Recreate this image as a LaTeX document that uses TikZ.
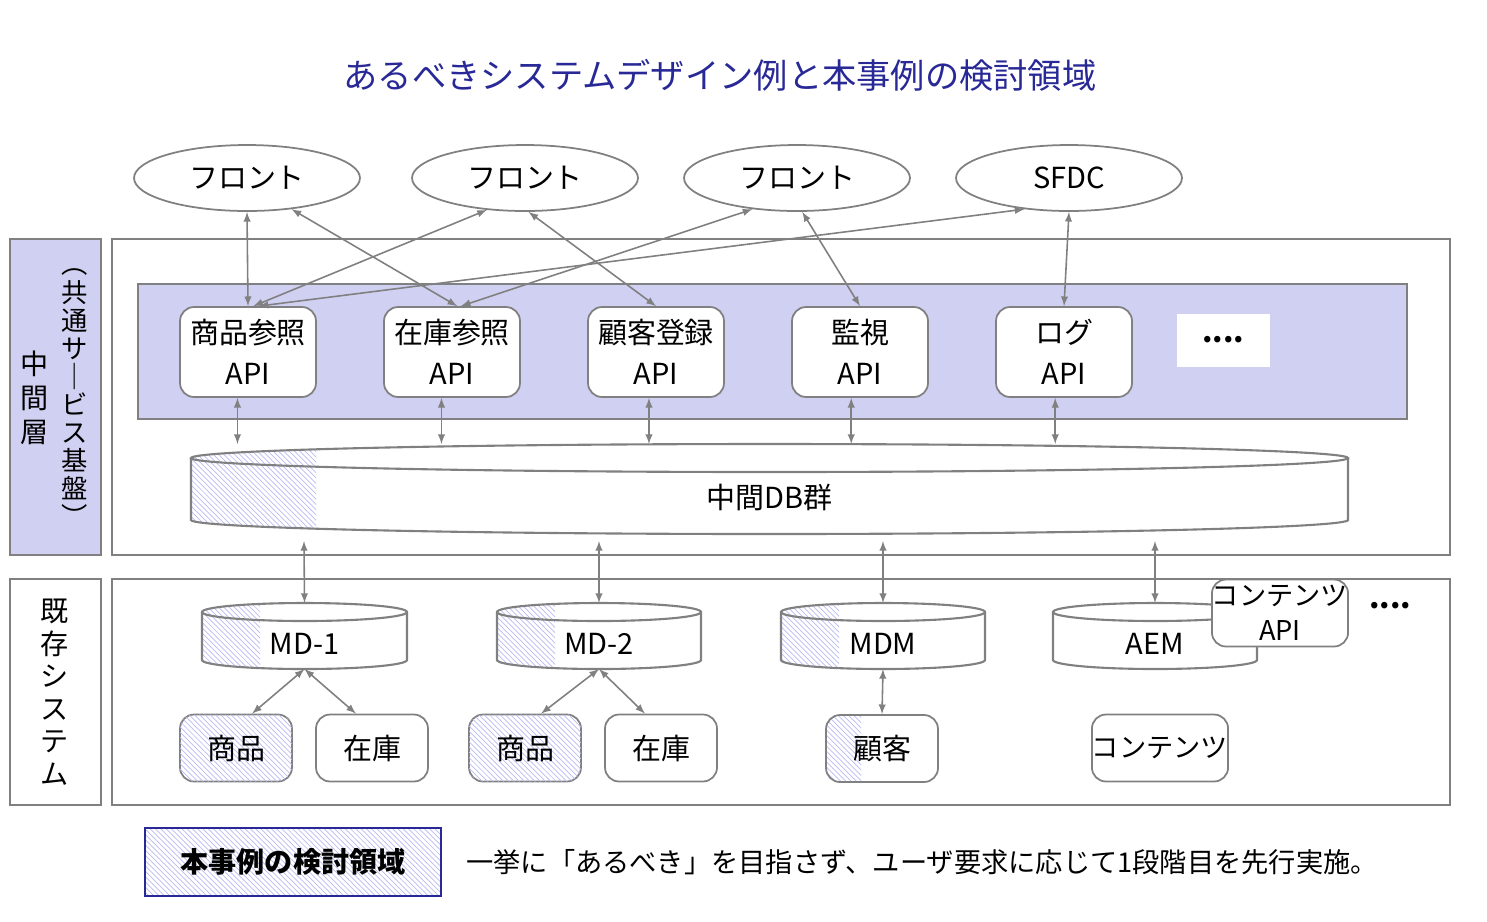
\documentclass[tikz,border=0pt]{standalone}
\usepackage{fontspec}
\setmainfont{Noto Sans CJK JP}
\usetikzlibrary{arrows,positioning,patterns,shapes.geometric}
\definecolor{lav}{RGB}{208,208,242}
\definecolor{navy}{RGB}{40,40,150}
\definecolor{edge}{RGB}{128,128,128}

% cylinder: x1, x2, ytop, ybottom, ry(cm), hatch width, name, label
\newcommand\dbstack[8]{%
  \pgfmathsetmacro\rxc{(#2-#1)/2*0.02}%
  \pgfmathsetmacro\cxc{(#1+#2)/2}%
  \path[fill=white] (#1,#3) -- (#1,#4) arc (180:360:\rxc cm and #5cm) -- (#2,#3) arc (0:180:\rxc cm and #5cm);
  \begin{scope}
    \clip (#1,#3) -- (#1,#4) arc (180:360:\rxc cm and #5cm) -- (#2,#3) arc (0:180:\rxc cm and #5cm);
    \fill[pattern=north west lines, pattern color=lav!90!blue] (#1,#3-30) rectangle (#1+#6,#4+30);
  \end{scope}
  \draw[edge, line width=1.2pt] (#1,#3) -- (#1,#4) arc (180:360:\rxc cm and #5cm) -- (#2,#3);
  \draw[edge, line width=1.2pt] (\cxc,#3) ellipse (\rxc cm and #5cm);
  \coordinate (#7-top) at ([yshift=#5cm]\cxc,#3);
  \coordinate (#7-bot) at ([yshift=-#5cm]\cxc,#4);
  \node (#7) at (\cxc,{(#3+#4)/2+8}) {#8};
}

\begin{document}
\begin{tikzpicture}[
    x=0.02cm, y=-0.02cm,
    >=latex,
    font=\fontsize{16.5}{20}\selectfont,
    front/.style={ellipse, draw=edge, line width=1pt, minimum width=4.52cm, minimum height=1.32cm, inner sep=0pt},
    api/.style={rectangle, rounded corners=8pt, draw=edge, line width=1pt, fill=white,
                minimum width=2.72cm, minimum height=1.8cm, align=center, inner sep=0pt,
                font=\fontsize{16.5}{23}\selectfont},
    sys/.style={rectangle, rounded corners=8pt, draw=edge, line width=1pt, fill=white,
                minimum width=2.24cm, minimum height=1.34cm, inner sep=0pt},
    hatched/.style={postaction={pattern=north west lines, pattern color=lav!90!blue}},
    frame/.style={draw=edge, line width=1pt},
    link/.style={<->, draw=edge, line width=0.9pt}
  ]
  \useasboundingbox (0,0) rectangle (1487,921);

  % title
  \node[text=navy, font=\fontsize{19.5}{24}\selectfont] (title) at (720,75) {あるべきシステムデザイン例と本事例の検討領域};

  % front ends
  \node[front] (f1) at (247,178) {フロント};
  \node[front] (f2) at (525,178) {フロント};
  \node[front] (f3) at (797,178) {フロント};
  \node[front] (f4) at (1069,178) {SFDC};

  % middle layer
  \draw[frame, fill=lav] (10,239) rectangle (101,555);
  \draw[frame] (112,239) rectangle (1450,555);
  \node[align=center, inner sep=0pt, font=\fontsize{16}{19.5}\selectfont] (midlabel) at (35,398) {中\\間\\層};
  \node[align=center, inner sep=0pt, font=\fontsize{15}{16}\selectfont] (sublabel) at (75,398)
    {︵\\共\\通\\サ\\｜\\ビ\\ス\\基\\盤\\︶};
  \draw[frame, fill=lav] (138,284) rectangle (1407,419);

  \node[api] (a1) at (248,352) {商品参照\\API};
  \node[api] (a2) at (452,352) {在庫参照\\API};
  \node[api] (a3) at (656,352) {顧客登録\\API};
  \node[api] (a4) at (860,352) {監視\\API};
  \node[api] (a5) at (1064,352) {ログ\\API};
  \node[fill=white, minimum width=1.86cm, minimum height=1.06cm, font=\bfseries\fontsize{17}{20}\selectfont] (more1) at (1223,340) {....};

  \dbstack{191}{1348}{458}{520}{0.28}{125}{mdb}{中間DB群}

  % legacy layer
  \draw[frame] (10,579) rectangle (101,805);
  \draw[frame] (112,579) rectangle (1450,805);
  \node[align=center, inner sep=0pt, font=\fontsize{16}{18.5}\selectfont] (legacylabel) at (55,692) {既\\存\\シ\\ス\\テ\\ム};

  \dbstack{202}{407}{612}{660}{0.18}{58}{md1}{MD-1}
  \dbstack{497}{701}{612}{660}{0.18}{58}{md2}{MD-2}
  \dbstack{781}{985}{612}{660}{0.18}{58}{mdm}{MDM}
  \dbstack{1053}{1257}{612}{660}{0.18}{0}{aem}{AEM}
  \node[api, minimum width=2.7cm, minimum height=1.34cm, font=\fontsize{15.5}{20}\selectfont] (capi) at (1280,613) {コンテンツ\\API};
  \node[font=\bfseries\fontsize{17}{20}\selectfont] (more2) at (1390,606) {....};

  \node[sys, hatched] (s1) at (236,748) {商品};
  \node[sys] (s2) at (372,748) {在庫};
  \node[sys, hatched] (s3) at (525,748) {商品};
  \node[sys] (s4) at (661,748) {在庫};
  \node[sys, font=\fontsize{15.5}{20}\selectfont] (s6) at (1160,748) {コンテンツ};
  \begin{scope}
    \clip (826,715) rectangle (861,782);
    \fill[pattern=north west lines, pattern color=lav!90!blue, rounded corners=8pt] (826,715) rectangle (938,782);
  \end{scope}
  \draw[edge, line width=1pt, rounded corners=8pt] (826,715) rectangle (938,782);
  \node[minimum width=2.24cm, minimum height=1.34cm] (s5) at (882,748) {顧客};

  % front <-> api
  \draw[link] (f1.south) -- (a1.north);
  \draw[link] (f1.-35) -- ([xshift=3pt]a2.north);
  \draw[link] (f2.-140) -- ([xshift=3pt]a1.north);
  \draw[link] ([xshift=2pt]f2.south) -- (a3.north);
  \draw[link] (f3.-145) -- ([xshift=5pt]a2.north);
  \draw[link] ([xshift=3pt]f3.south) -- (a4.north);
  \draw[link] (f4.-145) -- ([xshift=6pt]a1.north);
  \draw[link] (f4.south) -- (a5.north);

  % api <-> db
  \draw[link] ([xshift=-6pt]a1.south) -- ([xshift=-6pt]a1.south |- mdb-top);
  \draw[link] ([xshift=-6pt]a2.south) -- ([xshift=-6pt]a2.south |- mdb-top);
  \draw[link] ([xshift=-4pt]a3.south) -- ([xshift=-4pt]a3.south |- mdb-top);
  \draw[link] ([xshift=-5pt]a4.south) -- ([xshift=-5pt]a4.south |- mdb-top);
  \draw[link] ([xshift=-5pt]a5.south) -- ([xshift=-5pt]a5.south |- mdb-top);

  % middle <-> legacy
  \coordinate (m1) at (304,541);
  \coordinate (m2) at (599,541);
  \coordinate (m3) at (883,541);
  \coordinate (m4) at (1155,541);
  \draw[link] (m1) -- (md1-top);
  \draw[link] (m2) -- (md2-top);
  \draw[link] (m3) -- (mdm-top);
  \draw[link] (m4) -- (aem-top);

  % db <-> systems
  \draw[link] (md1-bot) -- (s1.65);
  \draw[link] (md1-bot) -- (s2.115);
  \draw[link] (md2-bot) -- (s3.65);
  \draw[link] (md2-bot) -- (s4.115);
  \draw[link] (mdm-bot) -- (s5.north);

  % legend
  \node[fill=white, hatched, minimum width=5.9cm, minimum height=1.34cm,
        font=\bfseries\fontsize{16}{19}\selectfont] (legend) at (293,862) {本事例の検討領域};
  \draw[navy, line width=1pt] (legend.north west) rectangle (legend.south east);
  \node[anchor=west, inner sep=0pt, font=\fontsize{15.5}{19}\selectfont] (note) at (466,862)
    {一挙に「あるべき」を目指さず、ユーザ要求に応じて1段階目を先行実施。};
\end{tikzpicture}
\end{document}
